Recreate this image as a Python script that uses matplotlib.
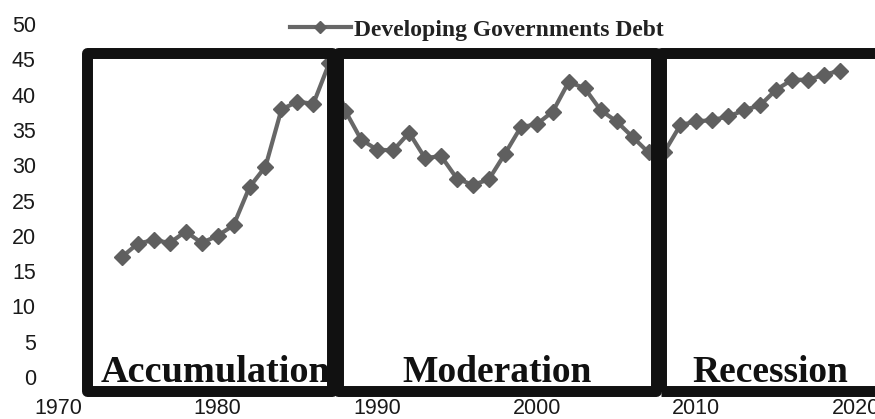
import matplotlib
matplotlib.use("Agg")
import matplotlib.pyplot as plt
from matplotlib.patches import Rectangle

years = list(range(1974, 2020))
debt = [17.0, 18.9, 19.4, 19.0, 20.6, 19.0, 20.0, 21.5, 26.9, 29.8,
        37.9, 39.0, 38.7, 44.5, 37.7, 33.6, 32.2, 32.1, 34.6, 31.0,
        31.3, 28.1, 27.2, 28.0, 31.6, 35.4, 35.8, 37.6, 41.8, 40.9,
        37.8, 36.2, 34.0, 31.8, 31.9, 35.7, 36.2, 36.4, 36.9, 37.8,
        38.5, 40.7, 42.1, 42.1, 42.8, 43.4]
series_name = "Developing Governments Debt"
phases = ["Accumulation", "Moderation", "Recession"]
phase_bounds = [(1971.84, 1987.16), (1987.53, 2007.47), (2007.78, 2022.5)]
x_ticks = [1970, 1980, 1990, 2000, 2010, 2020]
y_ticks = [0, 5, 10, 15, 20, 25, 30, 35, 40, 45, 50]

fig = plt.figure(figsize=(8.75, 4.19), dpi=100)
ax = fig.add_axes([58/875, 1-377/419, (856-58)/875, (377-24)/419])
ax.set_xlim(1970, 2020)
ax.set_ylim(0, 50)

line, = ax.plot(years, debt, color="#676767", lw=3.0, marker="D", markersize=8.5,
                markerfacecolor="#5f5f5f", markeredgecolor="#5f5f5f", zorder=2,
                label=series_name)

box_top, box_bottom = 45.96, -1.98
for (x0, x1), name in zip(phase_bounds, phases):
    r = Rectangle((x0, box_bottom), x1 - x0, box_top - box_bottom, fill=False,
                  edgecolor="#111111", lw=7.9, joinstyle="round", clip_on=False, zorder=3)
    ax.add_patch(r)
text_x = [1979.85, 1997.5, 2014.6]
text_sizes = [27.5, 27, 27]
for tx, name, fs in zip(text_x, phases, text_sizes):
    ax.text(tx, -0.7, name, ha="center", va="baseline", fontsize=fs, fontweight="bold",
            family="Liberation Serif", color="#111111", zorder=4)

ax.set_xticks(x_ticks)
ax.set_yticks(y_ticks)
for s in ax.spines.values():
    s.set_visible(False)
ax.tick_params(length=0, labelsize=14, colors="#1a1a1a")
ax.tick_params(axis="y", pad=16)
ax.tick_params(axis="x", pad=15)
for lab in ax.get_xticklabels() + ax.get_yticklabels():
    lab.set_family(["Liberation Sans Narrow", "Liberation Sans"])
    lab.set_fontsize(15.5)

leg = fig.legend(handles=[line], loc="center", bbox_to_anchor=(0.545, 1-30/419),
                 frameon=False, handlelength=2.6, handletextpad=0.15, markerscale=0.75,
                 prop={"family": "Liberation Serif", "weight": "bold", "size": 17})
for t in leg.get_texts():
    t.set_color("#222222")

fig.savefig("out.png", dpi=100)
